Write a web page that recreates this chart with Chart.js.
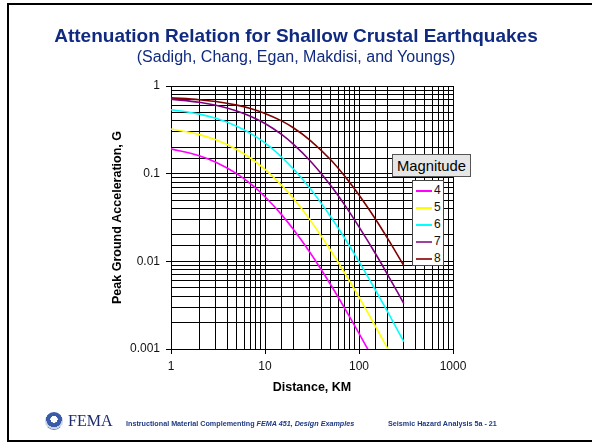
<!DOCTYPE html>
<html>
<head>
<meta charset="utf-8">
<script src="https://cdn.jsdelivr.net/npm/chart.js@4.4.0/dist/chart.umd.min.js"></script>
<style>
  html, body { margin:0; padding:0; background:#fff; }
  body { width:592px; height:445px; position:relative; overflow:hidden; font-family:"Liberation Sans", Arial, sans-serif; }
  #frame { position:absolute; left:7px; top:3px; width:620px; height:435px; border:2px solid #000; box-sizing:content-box; }
  #chart { position:absolute; left:0; top:0; }
  .title { position:absolute; left:0; width:592px; text-align:center; color:#0f2a80; white-space:nowrap; }
  #t1 { top:25px; font-size:19px; line-height:22px; font-weight:bold; }
  #t2 { top:47px; font-size:16px; line-height:19px; }
  #legTitle { position:absolute; left:392px; top:154px; width:79px; height:23px; background:#e6e6e6; border:1px solid #555; box-sizing:border-box; font-size:14.8px; line-height:22px; text-align:center; color:#000; }
  #legBox { position:absolute; left:412px; top:180px; width:32px; height:86px; background:#fff; border:1px solid #444; box-sizing:border-box; }
  .legItem { position:absolute; left:2px; height:14px; width:28px; }
  .legLine { position:absolute; left:1px; top:6px; width:16px; height:2px; }
  .legLbl { position:absolute; left:19px; top:-1px; font-size:12px; line-height:14px; color:#111; }
  #seal { position:absolute; left:45px; top:412px; width:18px; height:18px; border-radius:50%;
          background: radial-gradient(circle at 50% 40%, #ffffff 0 25%, #3b5aa8 26% 55%, #c9d3e8 56% 70%, #6a7fb5 71% 100%); }
  #fema { position:absolute; left:68px; top:411px; font-family:"Liberation Serif", "Times New Roman", serif; font-size:16px; line-height:19px; color:#1d2d6b; }
  .foot { position:absolute; top:419px; font-size:7.2px; line-height:9px; font-weight:bold; color:#1f3a84; white-space:nowrap; }
  #f1 { left:126px; }
  #f2 { left:388px; }
</style>
</head>
<body>
<div id="frame"></div>
<canvas id="chart" width="592" height="445"></canvas>
<div class="title" id="t1">Attenuation Relation for Shallow Crustal Earthquakes</div>
<div class="title" id="t2">(Sadigh, Chang, Egan, Makdisi, and Youngs)</div>
<div id="legTitle">Magnitude</div>
<div id="legBox"></div>
<div id="seal"></div>
<div id="fema">FEMA</div>
<div class="foot" id="f1">Instructional Material Complementing <i>FEMA 451, Design Examples</i></div>
<div class="foot" id="f2">Seismic Hazard Analysis 5a - 21</div>
<script>
// ---- data ----
const distances = [1, 2, 3, 5, 7, 10, 15, 20, 30, 50, 70, 100, 150, 200, 300];
const magnitudes = ['4', '5', '6', '7', '8'];
const pgaM4 = [0.192, 0.160, 0.135, 0.100, 0.0768, 0.0545, 0.0341, 0.0232, 0.0127, 0.00541, 0.00295, 0.00151, 0.000689, 0.000389, 0.000172];
const pgaM5 = [0.323, 0.279, 0.243, 0.189, 0.151, 0.112, 0.0740, 0.0523, 0.0299, 0.0133, 0.00746, 0.00390, 0.00180, 0.00103, 0.000458];
const pgaM6 = [0.537, 0.478, 0.428, 0.348, 0.288, 0.224, 0.155, 0.114, 0.0684, 0.0323, 0.0186, 0.00992, 0.00468, 0.00270, 0.00121];
const pgaM7 = [0.708, 0.653, 0.603, 0.520, 0.452, 0.373, 0.280, 0.217, 0.141, 0.0731, 0.0443, 0.0247, 0.0122, 0.00716, 0.00330];
const pgaM8 = [0.733, 0.698, 0.665, 0.605, 0.553, 0.487, 0.400, 0.334, 0.242, 0.144, 0.0945, 0.0571, 0.0302, 0.0185, 0.00892];
const xTickLabels = ['1', '10', '100', '1000'];
const yTickLabels = ['0.001', '0.01', '0.1', '1'];

const seriesList = [pgaM4, pgaM5, pgaM6, pgaM7, pgaM8];
const colors = ['#ff00ff', '#ffff00', '#00ffff', '#800080', '#800000'];
const legendColors = ['#ff00ff', '#ffff00', '#00ffff', '#a040a0', '#a03030'];

function isDecade(v) {
  const l = Math.log10(v);
  return Math.abs(l - Math.round(l)) < 1e-6;
}
function decadeLabel(v, labels, minExp) {
  if (!isDecade(v)) return '';
  const idx = Math.round(Math.log10(v)) - minExp;
  return labels[idx] !== undefined ? labels[idx] : '';
}

const datasets = magnitudes.map((m, i) => ({
  label: m,
  data: distances.map((d, j) => ({ x: d, y: seriesList[i][j] })),
  borderColor: colors[i],
  borderWidth: 1.6,
  pointRadius: 0,
  fill: false,
  cubicInterpolationMode: 'monotone'
}));

const tickFont = { family: '"Liberation Sans", Arial, sans-serif', size: 12 };
const titleFont = { family: '"Liberation Sans", Arial, sans-serif', size: 12.5, weight: 'bold' };

new Chart(document.getElementById('chart'), {
  type: 'line',
  data: { datasets },
  options: {
    responsive: false,
    animation: false,
    devicePixelRatio: 1,
    layout: { padding: { left: 110, top: 86, right: 139, bottom: 50 } },
    plugins: { legend: { display: false }, tooltip: { enabled: false } },
    scales: {
      x: {
        type: 'logarithmic', min: 1, max: 1000,
        afterFit: s => { s.height = 46; },
        grid: {
          color: '#000', lineWidth: 1, tickLength: 5,
          tickColor: c => (c.tick && isDecade(c.tick.value)) ? '#000' : 'rgba(0,0,0,0)'
        },
        border: { color: '#000', width: 1 },
        ticks: {
          autoSkip: false, maxRotation: 0, minRotation: 0, padding: 5,
          color: '#111', font: tickFont,
          callback: v => decadeLabel(v, xTickLabels, 0)
        },
        title: { display: true, text: 'Distance, KM', color: '#000', font: titleFont, padding: 0 }
      },
      y: {
        type: 'logarithmic', min: 0.001, max: 1,
        afterFit: s => { s.width = 61; },
        grid: {
          color: '#000', lineWidth: 1, tickLength: 5,
          tickColor: c => (c.tick && isDecade(c.tick.value)) ? '#000' : 'rgba(0,0,0,0)'
        },
        border: { color: '#000', width: 1 },
        ticks: {
          autoSkip: false, padding: 6,
          color: '#111', font: tickFont,
          callback: v => decadeLabel(v, yTickLabels, -3)
        },
        title: { display: true, text: 'Peak Ground Acceleration, G', color: '#000', font: titleFont, padding: 0 }
      }
    }
  }
});

// legend built from the datasets
const legBox = document.getElementById('legBox');
magnitudes.forEach((m, i) => {
  const item = document.createElement('div');
  item.className = 'legItem';
  item.style.top = (3 + i * 17) + 'px';
  item.innerHTML = '<div class="legLine" style="background:' + legendColors[i] + '"></div><div class="legLbl">' + m + '</div>';
  legBox.appendChild(item);
});
</script>
</body>
</html>
